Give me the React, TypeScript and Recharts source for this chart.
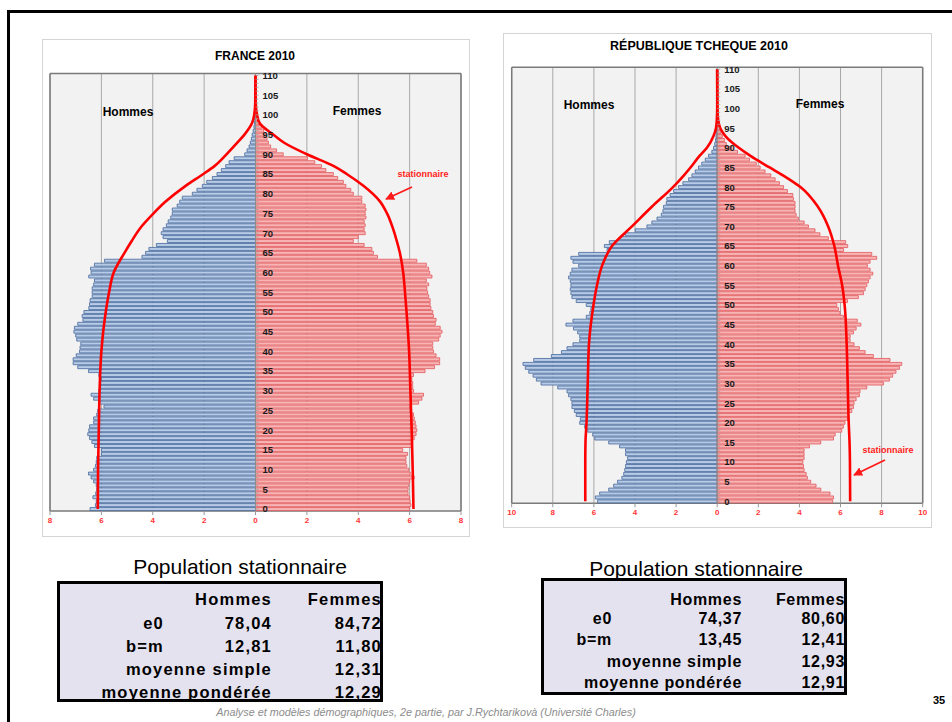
import React from 'react';
import {
  ComposedChart,
  Bar,
  Line,
  XAxis,
  YAxis,
  CartesianGrid,
  ReferenceLine,
} from 'recharts';

// single-year ages on the vertical axis
const AGES = Array.from({ length: 111 }, (_, i) => i);

// France 2010, % of population by single age
const FR_MEN = [
  6.44, 6.23, 6.2, 6.33, 6.22, 6.18, 6.2, 6.3, 6.4, 6.5,
  6.3, 6.23, 6.2, 6.18, 6.0, 6.0, 6.27, 6.37, 6.46, 6.53,
  6.49, 6.46, 6.3, 6.3, 6.18, 6.14, 5.9, 6.1, 6.3, 6.4,
  6.1, 6.03, 6.03, 6.0, 6.1, 6.5, 6.92, 7.1, 7.1, 6.98,
  6.85, 6.83, 6.8, 6.96, 7.0, 7.07, 7.05, 6.92, 6.72, 6.75,
  6.68, 6.49, 6.46, 6.44, 6.36, 6.36, 6.36, 6.3, 6.27, 6.49,
  6.4, 6.42, 6.27, 5.88, 4.42, 4.28, 4.15, 3.86, 3.43, 3.6,
  3.67, 3.6, 3.47, 3.4, 3.3, 3.24, 3.24, 3.05, 2.95, 2.85,
  2.46, 2.28, 2.07, 1.9, 1.68, 1.5, 1.33, 1.16, 1.03, 0.83,
  0.42, 0.33, 0.25, 0.2, 0.16, 0.13, 0.09, 0.06, 0.04, 0.03, 0.02,
];
const FR_WOMEN = [
  6.0, 6.05, 6.02, 6.0, 5.94, 5.94, 5.97, 6.0, 6.18, 6.02,
  5.97, 5.89, 5.86, 5.86, 5.92, 5.73, 6.09, 6.12, 6.18, 6.25,
  6.28, 6.25, 6.22, 6.18, 6.15, 6.02, 6.0, 6.35, 6.48, 6.54,
  6.15, 6.12, 6.12, 6.09, 6.15, 6.6, 6.97, 7.17, 7.17, 7.03,
  6.93, 6.9, 6.9, 7.13, 7.19, 7.26, 7.19, 7.0, 7.03, 6.93,
  6.9, 6.83, 6.8, 6.8, 6.74, 6.7, 6.67, 6.74, 6.65, 6.87,
  6.78, 6.74, 6.65, 6.28, 4.75, 4.59, 4.53, 4.23, 3.81, 4.0,
  4.27, 4.23, 4.27, 4.23, 4.3, 4.27, 4.3, 4.27, 4.14, 4.14,
  3.81, 3.71, 3.52, 3.42, 3.2, 3.03, 2.74, 2.57, 2.31, 2.02,
  1.08, 0.82, 0.59, 0.5, 0.45, 0.4, 0.32, 0.24, 0.17, 0.12, 0.08, 0.05,
];
const FR_STAT_AGES = [0, 10, 20, 30, 40, 50, 55, 60, 65, 68, 71, 75, 78, 82, 85, 87, 90, 93, 95, 98, 100, 103, 110];
const FR_STAT_MEN = [6.14, 6.13, 6.1, 6.07, 6.0, 5.83, 5.7, 5.52, 5.1, 4.82, 4.52, 3.97, 3.5, 2.72, 2.03, 1.6, 1.13, 0.7, 0.43, 0.13, 0.05, 0.01, 0];
const FR_STAT_WOMEN = [6.15, 6.12, 6.08, 6.03, 5.98, 5.88, 5.82, 5.75, 5.62, 5.5, 5.36, 5.12, 4.85, 4.2, 3.55, 3.05, 2.0, 1.1, 0.69, 0.15, 0.06, 0.01, 0];

// République tchèque 2010
const CZ_MEN = [
  5.82, 5.93, 5.72, 5.28, 5.04, 4.85, 4.64, 4.55, 4.5, 4.46,
  4.42, 4.36, 4.46, 4.46, 4.75, 5.28, 5.96, 6.06, 6.3, 6.45,
  6.69, 6.66, 6.86, 6.95, 7.07, 7.07, 7.12, 7.23, 7.31, 7.76,
  8.57, 8.8, 8.96, 9.17, 9.34, 9.45, 8.93, 8.07, 7.58, 7.31,
  7.02, 6.69, 6.69, 6.79, 6.99, 7.36, 7.02, 6.37, 6.2, 6.15,
  6.37, 6.86, 7.07, 7.12, 7.15, 7.12, 7.15, 7.23, 7.15, 7.07,
  6.74, 7.02, 7.12, 6.74, 5.36, 5.49, 5.25, 4.72, 4.47, 3.99,
  3.42, 3.18, 2.93, 2.72, 2.64, 2.61, 2.48, 2.45, 2.29, 2.12,
  1.88, 1.67, 1.39, 1.23, 1.07, 0.91, 0.75, 0.58, 0.42, 0.26,
  0.18, 0.12, 0.08, 0.06, 0.04, 0.03, 0.02,
];
const CZ_WOMEN = [
  5.62, 5.66, 5.49, 5.04, 4.81, 4.55, 4.39, 4.33, 4.23, 4.2,
  4.17, 4.23, 4.23, 4.23, 4.49, 5.04, 5.66, 5.74, 6.06, 6.14,
  6.22, 6.34, 6.39, 6.55, 6.63, 6.66, 6.76, 6.92, 6.95, 7.28,
  8.09, 8.38, 8.54, 8.7, 8.87, 8.98, 8.41, 7.6, 7.2, 6.92,
  6.66, 6.47, 6.47, 6.63, 6.76, 6.99, 6.82, 6.14, 5.98, 5.9,
  5.82, 6.34, 6.87, 7.12, 7.2, 7.28, 7.36, 7.44, 7.57, 7.44,
  7.31, 7.44, 7.76, 7.52, 6.15, 6.35, 6.25, 5.41, 5.0, 4.76,
  4.44, 4.23, 3.95, 3.84, 3.79, 3.79, 3.79, 3.71, 3.68, 3.42,
  3.23, 3.03, 2.82, 2.61, 2.33, 2.09, 1.9, 1.57, 1.36, 0.99,
  0.71, 0.44, 0.35, 0.25, 0.18, 0.12, 0.08, 0.05, 0.03,
];
const CZ_STAT_AGES = [0, 10, 15, 20, 30, 40, 50, 55, 60, 65, 70, 75, 80, 83, 85, 88, 90, 93, 95, 97, 100, 110];
const CZ_STAT_MEN = [6.42, 6.42, 6.41, 6.36, 6.3, 6.24, 6.02, 5.85, 5.6, 5.12, 4.15, 3.18, 2.15, 1.62, 1.3, 0.85, 0.5, 0.18, 0.06, 0.02, 0, 0];
const CZ_STAT_WOMEN = [6.47, 6.46, 6.44, 6.4, 6.35, 6.3, 6.2, 6.08, 5.88, 5.7, 5.4, 4.9, 4.05, 3.2, 2.55, 1.6, 1.05, 0.4, 0.15, 0.05, 0.01, 0];

const FR_TICKS = [-8, -6, -4, -2, 0, 2, 4, 6, 8];
const CZ_TICKS = [-10, -8, -6, -4, -2, 0, 2, 4, 6, 8, 10];

// tables "Population stationnaire"
const TABLE_HEAD = ['Hommes', 'Femmes'];
const FR_E0 = ['78,04', '84,72'];
const FR_BM = ['12,81', '11,80'];
const FR_SIMPLE = '12,31';
const FR_PONDEREE = '12,29';
const CZ_E0 = ['74,37', '80,60'];
const CZ_BM = ['13,45', '12,41'];
const CZ_SIMPLE = '12,93';
const CZ_PONDEREE = '12,91';

const FONT = '"Liberation Sans", Arial, sans-serif';

function buildRows(men: number[], women: number[], sAges: number[], sMen: number[], sWomen: number[]) {
  return AGES.map((age) => {
    const k = sAges.indexOf(age);
    return {
      age,
      m: age < men.length ? -men[age] : 0,
      f: age < women.length ? women[age] : 0,
      sm: k >= 0 ? -sMen[k] : null,
      sf: k >= 0 ? sWomen[k] : null,
    };
  });
}

function ageTick(cx: number) {
  return (props: any) => {
    const { y, payload } = props;
    const age = Number(payload.value);
    return (
      <g>
        <line x1={cx} x2={cx + 3} y1={y} y2={y} stroke="#a0a0a0" strokeWidth={0.8} />
        {age % 5 === 0 && (
          <text x={cx + 7} y={y} dy="0.36em" fontSize={9.5} fontWeight="bold" fill="#1a1a1a" fontFamily={FONT}>
            {age}
          </text>
        )}
      </g>
    );
  };
}

interface PyramidProps {
  rows: any[];
  ticks: number[];
  width: number;
  height: number;
  margin: { top: number; left: number; right: number; bottom: number };
}

const AXIS_W = 1;

function Pyramid({ rows, ticks, width, height, margin }: PyramidProps) {
  const max = ticks[ticks.length - 1];
  const plotW = width - margin.left - margin.right - AXIS_W;
  const cx = margin.left + AXIS_W + plotW / 2;
  return (
    <ComposedChart
      layout="vertical"
      width={width}
      height={height}
      data={rows}
      margin={margin}
      stackOffset="sign"
      barCategoryGap={0.5}
    >
      <CartesianGrid horizontal={false} stroke="#a8a8a8" fill="#f2f2f2" />
      <CartesianGrid
        stroke="#7a7a7a"
        strokeWidth={1.5}
        verticalCoordinatesGenerator={({ offset }: any) => [offset.left, offset.left + offset.width]}
        horizontalCoordinatesGenerator={({ offset }: any) => [offset.top, offset.top + offset.height]}
      />
      <ReferenceLine x={0} stroke="#8a8a8a" />
      <Bar dataKey="m" stackId="p" fill="#b7cbe6" stroke="#44679c" strokeWidth={0.8} isAnimationActive={false} />
      <Bar dataKey="f" stackId="p" fill="#f7b5b5" stroke="#e2575a" strokeWidth={0.8} isAnimationActive={false} />
      <Line dataKey="sm" type="monotone" stroke="#ff0000" strokeWidth={2.6} dot={false} connectNulls isAnimationActive={false} />
      <Line dataKey="sf" type="monotone" stroke="#ff0000" strokeWidth={2.6} dot={false} connectNulls isAnimationActive={false} />
      <XAxis
        type="number"
        domain={[-max, max]}
        ticks={ticks}
        height={20}
        axisLine={false}
        tickSize={4}
        tickLine={{ stroke: '#999' }}
        tickFormatter={(v) => String(Math.abs(v))}
        tick={{ fill: '#ff3333', fontSize: 8, fontWeight: 'bold', fontFamily: FONT }}
      />
      <YAxis
        type="category"
        dataKey="age"
        reversed
        width={AXIS_W}
        interval={0}
        axisLine={false}
        tickLine={false}
        tick={ageTick(cx)}
      />
    </ComposedChart>
  );
}

const abs = (l: number, t: number): React.CSSProperties => ({ position: 'absolute', left: l, top: t });

function Txt({ x, y, size, bold, color, children, anchor = 'middle', italic, spacing }: any) {
  const tr = anchor === 'middle' ? 'translate(-50%,-50%)' : anchor === 'end' ? 'translate(-100%,-50%)' : 'translate(0,-50%)';
  return (
    <div
      style={{
        position: 'absolute',
        left: x,
        top: y,
        transform: tr,
        whiteSpace: 'nowrap',
        fontSize: size,
        fontWeight: bold ? 'bold' : 'normal',
        fontStyle: italic ? 'italic' : 'normal',
        letterSpacing: spacing || 0,
        color: color || '#000',
        fontFamily: FONT,
        lineHeight: 1,
      }}
    >
      {children}
    </div>
  );
}

function StatTable({ left, top, width, height, col1, col2, labelRight, rowsY, e0, bm, simple, ponderee, size, spacing }: any) {
  const s = { size, bold: true, anchor: 'end', spacing };
  return (
    <>
      <div
        style={{
          ...abs(left, top),
          width,
          height,
          boxSizing: 'border-box',
          background: '#e5e2ef',
          border: '3px solid #000',
        }}
      />
      <Txt x={col1} y={rowsY[0]} {...s}>{TABLE_HEAD[0]}</Txt>
      <Txt x={col2} y={rowsY[0]} {...s}>{TABLE_HEAD[1]}</Txt>
      <Txt x={labelRight} y={rowsY[1]} {...s}>e0</Txt>
      <Txt x={col1} y={rowsY[1]} {...s}>{e0[0]}</Txt>
      <Txt x={col2} y={rowsY[1]} {...s}>{e0[1]}</Txt>
      <Txt x={labelRight} y={rowsY[2]} {...s}>b=m</Txt>
      <Txt x={col1} y={rowsY[2]} {...s}>{bm[0]}</Txt>
      <Txt x={col2} y={rowsY[2]} {...s}>{bm[1]}</Txt>
      <Txt x={col1} y={rowsY[3]} {...s}>moyenne simple</Txt>
      <Txt x={col2} y={rowsY[3]} {...s}>{simple}</Txt>
      <Txt x={col1} y={rowsY[4]} {...s}>moyenne pondérée</Txt>
      <Txt x={col2} y={rowsY[4]} {...s}>{ponderee}</Txt>
    </>
  );
}

export default function App() {
  const frRows = buildRows(FR_MEN, FR_WOMEN, FR_STAT_AGES, FR_STAT_MEN, FR_STAT_WOMEN);
  const czRows = buildRows(CZ_MEN, CZ_WOMEN, CZ_STAT_AGES, CZ_STAT_MEN, CZ_STAT_WOMEN);

  return (
    <div style={{ position: 'absolute', left: 0, top: 0, width: 952, height: 722, background: '#fff', overflow: 'hidden', fontFamily: FONT }}>
      {/* slide frame */}
      <div style={{ ...abs(7, 10), width: 960, height: 2.5, background: '#000' }} />
      <div style={{ ...abs(7, 10), width: 2.5, height: 720, background: '#000' }} />

      {/* France */}
      <div style={{ ...abs(42, 39), width: 428, height: 498, boxSizing: 'border-box', border: '1px solid #d4d4d4' }} />
      <div style={abs(42, 39)}>
        <Pyramid rows={frRows} ticks={FR_TICKS} width={428} height={498} margin={{ top: 34.5, left: 7, right: 9, bottom: 6 }} />
      </div>
      <Txt x={255} y={56} size={12} bold>FRANCE 2010</Txt>
      <Txt x={128} y={112} size={12} bold>Hommes</Txt>
      <Txt x={357} y={111} size={12} bold>Femmes</Txt>
      <Txt x={423} y={174} size={9} bold color="#ff1a1a">stationnaire</Txt>

      {/* République tchèque */}
      <div style={{ ...abs(503, 33), width: 429, height: 495, boxSizing: 'border-box', border: '1px solid #d4d4d4' }} />
      <div style={abs(504, 33)}>
        <Pyramid rows={czRows} ticks={CZ_TICKS} width={428} height={495} margin={{ top: 34.3, left: 6.7, right: 9.3, bottom: 4.7 }} />
      </div>
      <Txt x={699} y={46} size={12.5} bold>RÉPUBLIQUE TCHEQUE 2010</Txt>
      <Txt x={589} y={105} size={12} bold>Hommes</Txt>
      <Txt x={820} y={104} size={12} bold>Femmes</Txt>
      <Txt x={888} y={450} size={9} bold color="#ff1a1a">stationnaire</Txt>

      {/* arrows */}
      <svg width={952} height={722} style={{ position: 'absolute', left: 0, top: 0, pointerEvents: 'none' }}>
        <defs>
          <marker id="ah" viewBox="0 0 10 10" refX="9" refY="5" markerWidth="5" markerHeight="5" orient="auto">
            <path d="M0,0 L10,5 L0,10 z" fill="#ff1a1a" />
          </marker>
        </defs>
        <line x1={412} y1={187} x2={386} y2={199} stroke="#ff1a1a" strokeWidth={1.8} markerEnd="url(#ah)" />
        <line x1={885} y1={460} x2={854} y2={475} stroke="#ff1a1a" strokeWidth={1.8} markerEnd="url(#ah)" />
      </svg>

      {/* tables */}
      <Txt x={240} y={566} size={21}>Population stationnaire</Txt>
      <StatTable
        left={57} top={581} width={326} height={121}
        col1={272} col2={382} labelRight={164}
        rowsY={[599, 623, 646, 669, 692]}
        e0={FR_E0} bm={FR_BM} simple={FR_SIMPLE} ponderee={FR_PONDEREE} size={16.5} spacing={1.2}
      />
      <Txt x={696} y={568} size={21}>Population stationnaire</Txt>
      <StatTable
        left={541} top={578} width={306} height={117}
        col1={742} col2={845} labelRight={612}
        rowsY={[600, 619, 640, 662, 683]}
        e0={CZ_E0} bm={CZ_BM} simple={CZ_SIMPLE} ponderee={CZ_PONDEREE} size={16} spacing={0.7}
      />

      <Txt x={426} y={712} size={10.8} italic color="#8c8c8c">
        Analyse et modèles démographiques, 2e partie, par J.Rychtarikovà (Université Charles)
      </Txt>
      <Txt x={939} y={700} size={11} bold>35</Txt>
    </div>
  );
}
